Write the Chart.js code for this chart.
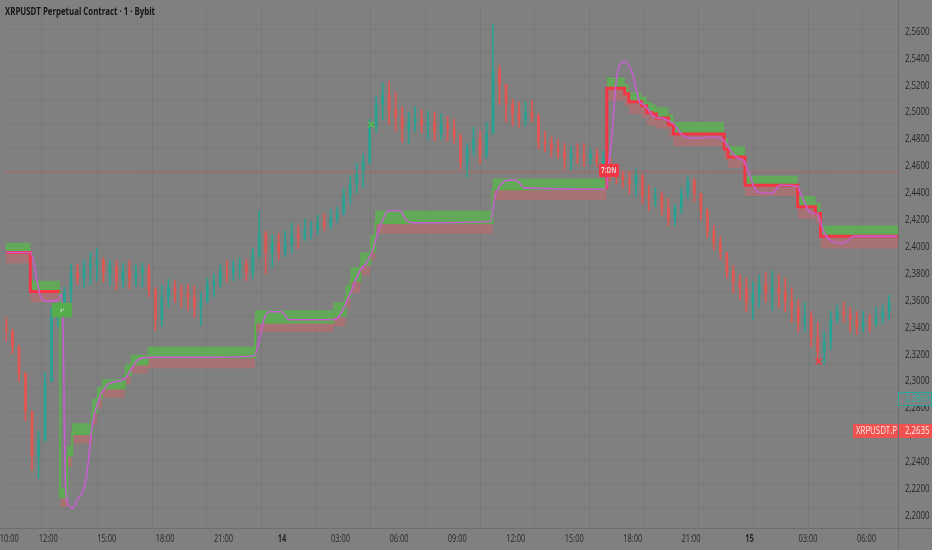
<!DOCTYPE html>
<html>
<head>
<meta charset="utf-8">
<script src="https://cdn.jsdelivr.net/npm/chart.js@4.4.1/dist/chart.umd.min.js"></script>
<style>
  html, body { margin: 0; padding: 0; background: #808080; }
  #wrap { width: 932px; height: 550px; }
</style>
</head>
<body>
<div id="wrap"><canvas id="chart" width="932" height="550"></canvas></div>
<script>
// time axis is in hours from 13th 00:00, candles grouped in 20 minute bars
const barMinutes = 20;
const firstBarHour = 9.833;
const firstOpen = 2.345;

const highs = [
  2.348, 2.339, 2.327, 2.307, 2.278, 2.263, 2.307, 2.355, 2.360, 2.370,
  2.387, 2.387, 2.390, 2.396, 2.399, 2.392, 2.390, 2.390, 2.388, 2.390,
  2.387, 2.388, 2.387, 2.370, 2.372, 2.376, 2.375, 2.372, 2.372, 2.371,
  2.366, 2.377, 2.380, 2.387, 2.390, 2.390, 2.392, 2.391, 2.399, 2.427,
  2.412, 2.409, 2.410, 2.412, 2.418, 2.416, 2.421, 2.419, 2.424, 2.425,
  2.428, 2.430, 2.444, 2.453, 2.462, 2.469, 2.495, 2.512, 2.522, 2.523,
  2.515, 2.504, 2.500, 2.504, 2.502, 2.501, 2.500, 2.499, 2.497, 2.495,
  2.484, 2.477, 2.489, 2.486, 2.493, 2.566, 2.535, 2.515, 2.510, 2.508,
  2.508, 2.509, 2.499, 2.486, 2.482, 2.480, 2.477, 2.475, 2.477, 2.477,
  2.473, 2.473, 2.471, 2.466, 2.462, 2.456, 2.456, 2.458, 2.454, 2.446,
  2.444, 2.441, 2.436, 2.432, 2.444, 2.453, 2.451, 2.436, 2.429, 2.416,
  2.408, 2.396, 2.386, 2.380, 2.377, 2.374, 2.379, 2.381, 2.382, 2.380,
  2.377, 2.370, 2.361, 2.359, 2.352, 2.344, 2.337, 2.352, 2.357, 2.359,
  2.355, 2.352, 2.352, 2.350, 2.355, 2.357, 2.364
];
const lows = [
  2.330, 2.321, 2.300, 2.271, 2.234, 2.228, 2.256, 2.300, 2.341, 2.348,
  2.359, 2.372, 2.370, 2.372, 2.375, 2.374, 2.372, 2.368, 2.370, 2.369,
  2.371, 2.370, 2.363, 2.338, 2.341, 2.355, 2.359, 2.355, 2.353, 2.348,
  2.342, 2.359, 2.363, 2.370, 2.374, 2.375, 2.377, 2.375, 2.377, 2.392,
  2.380, 2.385, 2.391, 2.393, 2.396, 2.399, 2.405, 2.406, 2.409, 2.412,
  2.413, 2.418, 2.424, 2.432, 2.440, 2.444, 2.462, 2.485, 2.495, 2.491,
  2.486, 2.478, 2.477, 2.486, 2.485, 2.480, 2.479, 2.480, 2.479, 2.477,
  2.458, 2.452, 2.468, 2.462, 2.466, 2.484, 2.506, 2.493, 2.490, 2.489,
  2.490, 2.493, 2.473, 2.471, 2.467, 2.466, 2.458, 2.457, 2.462, 2.460,
  2.462, 2.460, 2.460, 2.449, 2.447, 2.444, 2.440, 2.438, 2.432, 2.427,
  2.430, 2.424, 2.416, 2.416, 2.425, 2.436, 2.434, 2.420, 2.407, 2.398,
  2.391, 2.377, 2.366, 2.361, 2.352, 2.346, 2.355, 2.359, 2.353, 2.355,
  2.352, 2.344, 2.337, 2.337, 2.326, 2.316, 2.313, 2.324, 2.343, 2.344,
  2.337, 2.335, 2.337, 2.337, 2.341, 2.343, 2.346
];
const closes = [
  2.337, 2.326, 2.306, 2.278, 2.245, 2.256, 2.300, 2.348, 2.352, 2.366,
  2.381, 2.377, 2.385, 2.387, 2.390, 2.381, 2.385, 2.375, 2.382, 2.377,
  2.381, 2.384, 2.368, 2.346, 2.363, 2.370, 2.366, 2.365, 2.363, 2.355,
  2.359, 2.372, 2.374, 2.382, 2.381, 2.385, 2.387, 2.381, 2.394, 2.410,
  2.396, 2.403, 2.397, 2.403, 2.409, 2.406, 2.412, 2.413, 2.418, 2.416,
  2.422, 2.425, 2.438, 2.447, 2.455, 2.463, 2.490, 2.506, 2.513, 2.502,
  2.497, 2.488, 2.493, 2.495, 2.491, 2.493, 2.485, 2.491, 2.488, 2.482,
  2.463, 2.473, 2.480, 2.469, 2.485, 2.532, 2.521, 2.506, 2.499, 2.495,
  2.500, 2.497, 2.478, 2.477, 2.473, 2.471, 2.466, 2.469, 2.468, 2.466,
  2.469, 2.463, 2.466, 2.458, 2.453, 2.450, 2.447, 2.453, 2.438, 2.436,
  2.438, 2.429, 2.421, 2.429, 2.440, 2.449, 2.440, 2.427, 2.412, 2.403,
  2.396, 2.382, 2.374, 2.370, 2.359, 2.365, 2.372, 2.366, 2.370, 2.366,
  2.360, 2.355, 2.344, 2.348, 2.333, 2.322, 2.330, 2.346, 2.352, 2.350,
  2.346, 2.341, 2.344, 2.343, 2.348, 2.352, 2.359
];

// trend stop: each step starts at stepHours[k]
const stepHours = [9.806, 11.082, 12.612, 12.969, 13.224, 14.245, 14.500, 14.755, 15.928, 16.235,
  17.102, 22.612, 26.643, 27.255, 27.510, 28.020, 28.530, 28.786, 34.806, 40.673,
  41.592, 41.796, 42.459, 42.714, 42.969, 43.224, 43.837, 44.092, 46.694, 46.898,
  47.765, 50.469, 51.388, 51.643];
const stepLevel = [2.396, 2.367, 2.214, 2.245, 2.261, 2.277, 2.288, 2.295, 2.305, 2.313,
  2.318, 2.344, 2.349, 2.363, 2.375, 2.387, 2.397, 2.418, 2.443, 2.518,
  2.514, 2.508, 2.505, 2.500, 2.499, 2.496, 2.491, 2.484, 2.473, 2.467,
  2.446, 2.430, 2.425, 2.408];
const stepUpper = [2.403, 2.375, 2.221, 2.252, 2.269, 2.287, 2.296, 2.302, 2.313, 2.320,
  2.326, 2.353, 2.359, 2.372, 2.385, 2.396, 2.409, 2.427, 2.451, 2.526,
  2.521, 2.515, 2.512, 2.508, 2.506, 2.504, 2.499, 2.493, 2.481, 2.475,
  2.453, 2.438, 2.433, 2.416];
const stepLower = [2.388, 2.359, 2.207, 2.237, 2.254, 2.268, 2.280, 2.288, 2.298, 2.306,
  2.310, 2.337, 2.341, 2.355, 2.366, 2.379, 2.390, 2.410, 2.435, 2.509,
  2.505, 2.499, 2.496, 2.491, 2.490, 2.488, 2.482, 2.475, 2.465, 2.459,
  2.438, 2.421, 2.418, 2.399];
const stepTrend = ['dn', 'dn',
  'up', 'up', 'up', 'up', 'up', 'up', 'up', 'up', 'up', 'up', 'up', 'up', 'up', 'up', 'up', 'up', 'up',
  'dn', 'dn', 'dn', 'dn', 'dn', 'dn', 'dn', 'dn', 'dn', 'dn', 'dn', 'dn', 'dn', 'dn', 'dn'];
const lastHour = 55.62;

// magenta trailing average
const trailHours = [9.806, 11.082, 11.235, 11.388, 11.592, 11.847, 12.255, 12.510, 12.663, 12.765,
  12.816, 12.867, 12.969, 13.122, 13.275, 13.479, 13.786, 13.939, 14.092, 14.245,
  14.500, 14.755, 15.061, 15.418, 15.928, 16.286, 16.592, 17.102, 20.010, 22.561,
  22.867, 23.071, 23.326, 23.990, 24.347, 26.643, 26.949, 27.306, 27.663, 28.020,
  28.326, 28.684, 28.939, 29.194, 29.449, 30.061, 30.367, 30.724, 34.704, 34.908,
  35.163, 35.418, 35.979, 36.235, 36.439, 40.622, 40.775, 40.928, 41.082, 41.184,
  41.337, 41.592, 41.847, 42.051, 42.204, 42.357, 42.561, 42.816, 43.071, 43.479,
  43.837, 44.143, 44.398, 44.653, 45.163, 46.184, 46.694, 47.051, 47.408, 47.714,
  47.969, 48.224, 48.428, 49.194, 49.449, 49.602, 50.469, 50.622, 50.775, 51.030,
  51.235, 51.490, 51.643, 51.898, 52.153, 52.816, 53.071, 53.326, 55.571];
const trailValues = [2.396, 2.396, 2.390, 2.377, 2.364, 2.360, 2.360, 2.360, 2.365, 2.337,
  2.285, 2.234, 2.212, 2.207, 2.206, 2.212, 2.219, 2.228, 2.245, 2.267,
  2.282, 2.292, 2.298, 2.300, 2.302, 2.310, 2.316, 2.318, 2.318, 2.319,
  2.333, 2.346, 2.352, 2.352, 2.346, 2.346, 2.349, 2.359, 2.371, 2.383,
  2.388, 2.399, 2.412, 2.421, 2.427, 2.427, 2.420, 2.418, 2.419, 2.436,
  2.445, 2.449, 2.450, 2.447, 2.444, 2.443, 2.462, 2.482, 2.511, 2.527,
  2.535, 2.538, 2.534, 2.526, 2.516, 2.508, 2.506, 2.502, 2.497, 2.496,
  2.494, 2.491, 2.486, 2.482, 2.481, 2.482, 2.479, 2.471, 2.466, 2.464,
  2.455, 2.445, 2.441, 2.440, 2.445, 2.446, 2.445, 2.440, 2.435, 2.427,
  2.425, 2.425, 2.418, 2.409, 2.405, 2.403, 2.405, 2.408, 2.408];

const priceLineValue = 2.456;
const crossUp = [28.582, 2.491];
const crossDown = [51.541, 2.315];
const buyTag = [12.714, 2.353];
const sellTag = [40.775, 2.457];
const lastPrice = 2.2635;
const markPrice = 2.2869;

const priceTicks = [2.56, 2.54, 2.52, 2.50, 2.48, 2.46, 2.44, 2.42, 2.40, 2.38,
  2.36, 2.34, 2.32, 2.30, 2.28, 2.26, 2.24, 2.22, 2.20];
const timeTicks = [10, 12, 15, 18, 21, 24, 27, 30, 33, 36, 39, 42, 45, 48, 51, 54];
const timeLabels = ['10:00', '12:00', '15:00', '18:00', '21:00', '14', '03:00', '06:00', '09:00',
  '12:00', '15:00', '18:00', '21:00', '15', '03:00', '06:00'];
const gridHours = [11.643, 14.500, 17.306, 20.112, 22.918, 25.724, 28.530, 31.337, 34.143,
  36.949, 39.755, 42.561, 45.367, 48.173, 50.980, 53.786];
const gridPrices = [2.5625, 2.5447, 2.5269, 2.5091, 2.4913, 2.4735, 2.4556, 2.4378, 2.4200,
  2.4023, 2.3844, 2.3666, 2.3488, 2.3310, 2.3132, 2.2954, 2.2776, 2.2598, 2.2420, 2.2242, 2.2064];

const UP = '#27a393';
const DOWN = '#e2564f';
const LINE_DN = '#f23645';
const LINE_UP = '#5cad50';

const opens = closes.map((c, i) => i === 0 ? firstOpen : closes[i - 1]);
const barHours = closes.map((c, i) => firstBarHour + i * barMinutes / 60);

function stepPoints(values) {
  const pts = [];
  stepHours.forEach((h, k) => {
    const end = k + 1 < stepHours.length ? stepHours[k + 1] : lastHour;
    pts.push({ x: h, y: values[k] }, { x: end, y: values[k] });
  });
  return pts;
}

const candleColor = c => closes[c.dataIndex] >= opens[c.dataIndex] ? UP : DOWN;

function squeezed(ctx, text, x, y, sx, align) {
  ctx.save();
  ctx.translate(x, y);
  ctx.scale(sx, 1);
  ctx.textAlign = align;
  ctx.fillText(text, 0, 0);
  ctx.restore();
}

const chrome = {
  id: 'chrome',
  beforeDatasetsDraw(chart) {
    const { ctx, chartArea: a, scales: { x, y } } = chart;
    ctx.save();
    ctx.strokeStyle = 'rgba(0,0,0,0.05)';
    ctx.lineWidth = 1;
    ctx.beginPath();
    gridHours.forEach(h => {
      const px = Math.round(x.getPixelForValue(h)) + 0.5;
      ctx.moveTo(px, a.top);
      ctx.lineTo(px, a.bottom);
    });
    gridPrices.forEach(p => {
      const py = Math.round(y.getPixelForValue(p)) + 0.5;
      ctx.moveTo(a.left, py);
      ctx.lineTo(a.right, py);
    });
    ctx.stroke();
    ctx.restore();
  },
  afterDraw(chart) {
    const { ctx, chartArea: a, scales: { x, y } } = chart;
    ctx.save();

    // axis separators
    ctx.strokeStyle = 'rgba(0,0,0,0.14)';
    ctx.beginPath();
    ctx.moveTo(Math.round(a.right) + 0.5, 0);
    ctx.lineTo(Math.round(a.right) + 0.5, 550);
    ctx.moveTo(0, Math.round(a.bottom) + 0.5);
    ctx.lineTo(932, Math.round(a.bottom) + 0.5);
    ctx.stroke();

    ctx.textBaseline = 'middle';

    // title
    ctx.font = 'bold 10.5px "Open Sans"';
    ctx.fillStyle = '#141414';
    const title = 'XRPUSDT Perpetual Contract · 1 · Bybit';
    squeezed(ctx, title, 5, 12.5, 150 / ctx.measureText(title).width, 'left');

    // price scale
    ctx.font = '10px "Open Sans"';
    ctx.fillStyle = '#262626';
    const sy = 24.5 / ctx.measureText('2,5600').width;
    priceTicks.forEach(p => {
      squeezed(ctx, p.toFixed(4).replace('.', ','), 905, y.getPixelForValue(p), sy, 'left');
    });

    // time scale
    const sxl = 19 / ctx.measureText('12:00').width;
    timeTicks.forEach((h, i) => {
      const lab = timeLabels[i];
      ctx.font = lab.length < 3 ? 'bold 10px "Open Sans"' : '10px "Open Sans"';
      squeezed(ctx, lab, x.getPixelForValue(h), 539.5, sxl, 'center');
    });

    // mark price tag
    ctx.font = '10px "Open Sans"';
    let py = Math.round(y.getPixelForValue(markPrice));
    ctx.fillStyle = '#808080';
    ctx.fillRect(898, py - 7, 34, 14);
    ctx.strokeStyle = '#26a69a';
    ctx.strokeRect(898.5, py - 6.5, 33, 13);
    ctx.fillStyle = '#2bb3a3';
    squeezed(ctx, markPrice.toFixed(4).replace('.', ','), 905, py + 0.5, sy, 'left');

    // last price tag
    py = Math.round(y.getPixelForValue(lastPrice));
    ctx.fillStyle = '#f05252';
    ctx.fillRect(853, py - 7, 45, 14);
    ctx.fillRect(899, py - 7, 33, 14);
    ctx.fillStyle = '#f7ece6';
    squeezed(ctx, 'XRPUSDT.P', 856, py + 0.5, 41 / ctx.measureText('XRPUSDT.P').width, 'left');
    squeezed(ctx, lastPrice.toFixed(4).replace('.', ','), 905, py + 0.5, sy, 'left');

    // signal tags
    ctx.font = 'bold 8px "Open Sans"';
    let px = x.getPixelForValue(sellTag[0]);
    py = y.getPixelForValue(sellTag[1]);
    ctx.fillStyle = '#f23645';
    ctx.fillRect(Math.round(px - 10), Math.round(py - 6), 20, 13);
    ctx.fillStyle = '#d8cfc8';
    squeezed(ctx, '7:DN', px, py + 0.5, 0.8, 'center');

    px = x.getPixelForValue(buyTag[0]);
    py = y.getPixelForValue(buyTag[1]);
    ctx.fillStyle = '#55ad4c';
    ctx.fillRect(Math.round(px - 10), Math.round(py - 7), 20, 14);
    ctx.fillStyle = '#d8d8cc';
    squeezed(ctx, '‹·', px, py, 0.8, 'center');

    ctx.restore();
  }
};

new Chart(document.getElementById('chart'), {
  type: 'bar',
  data: {
    datasets: [
      {
        label: 'wicks',
        data: barHours.map((h, i) => ({ x: h, y: [lows[i], highs[i]] })),
        backgroundColor: candleColor,
        barThickness: 1,
        grouped: false,
        order: 10
      },
      {
        label: 'bodies',
        data: barHours.map((h, i) => ({ x: h, y: [opens[i], closes[i]] })),
        backgroundColor: candleColor,
        barThickness: 2,
        minBarLength: 1,
        grouped: false,
        order: 9
      },
      {
        type: 'line',
        label: 'upper',
        data: stepPoints(stepUpper),
        borderWidth: 0,
        pointRadius: 0,
        fill: false,
        order: 8
      },
      {
        type: 'line',
        label: 'lower',
        data: stepPoints(stepLower),
        borderWidth: 0,
        pointRadius: 0,
        fill: 4,
        backgroundColor: '#a67274',
        order: 7
      },
      {
        type: 'line',
        label: 'level',
        data: stepPoints(stepLevel),
        borderWidth: 3,
        pointRadius: 0,
        fill: 2,
        backgroundColor: '#63a95a',
        segment: {
          borderColor: c => stepTrend[Math.floor(c.p1DataIndex / 2)] === 'dn' ? LINE_DN : LINE_UP,
          borderWidth: c => stepTrend[Math.floor(c.p1DataIndex / 2)] === 'dn' ? 3 : 2
        },
        order: 6
      },
      {
        type: 'line',
        label: 'price line',
        data: [{ x: 9.806, y: priceLineValue }, { x: lastHour, y: priceLineValue }],
        borderColor: 'rgba(235,80,80,0.45)',
        borderWidth: 1,
        pointRadius: 0,
        order: 5
      },
      {
        type: 'line',
        label: 'trail',
        data: trailHours.map((h, i) => ({ x: h, y: trailValues[i] })),
        borderColor: '#c55fce',
        borderWidth: 1.6,
        pointRadius: 0,
        cubicInterpolationMode: 'monotone',
        order: 4
      },
      {
        type: 'line',
        label: 'cross up',
        data: [{ x: crossUp[0], y: crossUp[1] }],
        showLine: false,
        pointStyle: 'crossRot',
        pointRadius: 4,
        borderColor: '#4fbf47',
        borderWidth: 1.5,
        order: 3
      },
      {
        type: 'line',
        label: 'cross down',
        data: [{ x: crossDown[0], y: crossDown[1] }],
        showLine: false,
        pointStyle: 'crossRot',
        pointRadius: 4,
        borderColor: '#ef3b45',
        borderWidth: 1.5,
        order: 3
      }
    ]
  },
  options: {
    responsive: false,
    animation: false,
    devicePixelRatio: 1,
    events: [],
    layout: { padding: 0 },
    plugins: { legend: { display: false }, tooltip: { enabled: false } },
    scales: {
      x: {
        type: 'linear',
        min: 9.806,
        max: 55.62,
        offset: false,
        grid: { display: false, offset: false },
        border: { display: false },
        ticks: { display: false },
        afterFit: s => { s.height = 22; }
      },
      y: {
        position: 'right',
        min: 2.1912,
        max: 2.5796,
        grid: { display: false },
        border: { display: false },
        ticks: { display: false },
        afterFit: s => { s.width = 34; }
      }
    }
  },
  plugins: [chrome]
});
</script>
</body>
</html>
